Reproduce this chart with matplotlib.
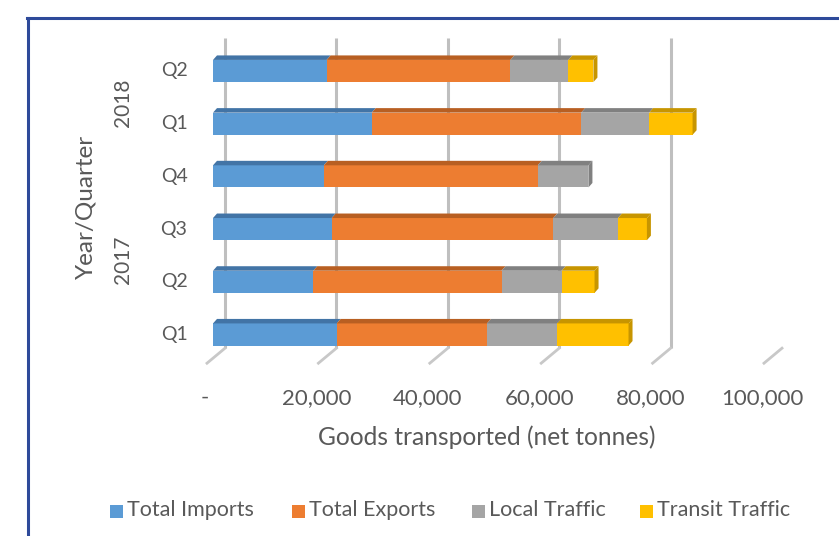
import matplotlib
matplotlib.use("Agg")
import matplotlib.pyplot as plt
from matplotlib.patches import Polygon, Rectangle
from matplotlib.lines import Line2D
import matplotlib.transforms as mtransforms
import numpy as np

plt.rcParams['font.family'] = ['Lato', 'DejaVu Sans']

quarters = ["Q1", "Q2", "Q3", "Q4", "Q1", "Q2"]
years = ["2017", "2018"]
series_names = ["Total Imports", "Total Exports", "Local Traffic", "Transit Traffic"]
imports = [22200, 18000, 21300, 19900, 28500, 20400]
exports = [27000, 33800, 39800, 38400, 37600, 33000]
local = [12600, 10800, 11600, 9100, 12200, 10400]
transit = [12800, 5900, 5200, 0, 7800, 4500]
x_ticks = [0, 20000, 40000, 60000, 80000, 100000]
x_ticklabels = ["-", "20,000", "40,000", "60,000", "80,000", "100,000"]

front_colors = ["#5B9BD5", "#ED7D31", "#A5A5A5", "#FFC000"]
top_colors = ["#4274A6", "#B85F22", "#808080", "#C79500"]
text_color = "#595959"

W, H = 839, 536
fig = plt.figure(figsize=(W / 100, H / 100), dpi=100)

def fx(px):
    return px / W

def fy(py):
    return 1 - py / H

# data axes: 0 -> x=213 px, 100000 -> 770 px ; y from 38 to 360 px
ax_left, ax_right = 213, 770
ax_top, ax_bot = 38, 360
ax = fig.add_axes([fx(ax_left), fy(ax_bot), fx(ax_right) - fx(ax_left), (ax_bot - ax_top) / H])
ax.set_xlim(0, 100000)
ax.set_ylim(-0.484, 5.626)
ax.axis("off")

inv = fig.transFigure.inverted()
# gridlines on back wall (offset right by 12 px), with floor diagonal
for xv in x_ticks:
    off = mtransforms.ScaledTranslation(12 / 100, 0, fig.dpi_scale_trans)
    tr = ax.transData + off
    ax.plot([xv, xv], [5.626, -0.26], color="#BFBFBF", lw=2.2, transform=tr,
            zorder=1, solid_capstyle="butt")
    p0 = ax.transData.transform((xv, -0.26))
    p0 = (p0[0] + 12, p0[1])
    p1 = (p0[0] - 18, p0[1] - 15)
    a = inv.transform(p0)
    b = inv.transform(p1)
    fig.add_artist(Line2D([a[0], b[0]], [a[1], b[1]], color="#C8C8C8", lw=2.0,
                          transform=fig.transFigure, zorder=1))

# bars with 3D faces
data = [imports, exports, local, transit]
bh = 0.42
ddx = 4 / 5.57 * 1000   # depth in data x units
ddy = 4.5 / 52.7         # depth in data y units
ypos = np.arange(len(quarters))
for i, y in enumerate(ypos):
    left = 0
    segs = []
    for s in range(4):
        v = data[s][i]
        if v > 0:
            segs.append((left, v, s))
        left += v
    total = left
    for (l, v, s) in segs:
        ax.add_patch(Rectangle((l, y - bh / 2), v, bh, facecolor=front_colors[s],
                               edgecolor="none", zorder=3))
        ax.add_patch(Polygon([(l, y + bh / 2), (l + v, y + bh / 2),
                              (l + v + ddx, y + bh / 2 + ddy), (l + ddx, y + bh / 2 + ddy)],
                             closed=True, facecolor=top_colors[s], edgecolor="none", zorder=3))
    ls = segs[-1][2]
    ax.add_patch(Polygon([(total, y - bh / 2), (total, y + bh / 2),
                          (total + ddx, y + bh / 2 + ddy), (total + ddx, y - bh / 2 + ddy)],
                         closed=True, facecolor=top_colors[ls], edgecolor="none", zorder=3))

# y tick labels
for i, q in enumerate(quarters):
    p = ax.transData.transform((0, ypos[i]))
    fig.text(fx(174), p[1] / H, q, ha="center", va="center", fontsize=14, color=text_color)

fig.text(fx(123), fy(260), years[0], ha="center", va="center", rotation=90, fontsize=15, color=text_color)
fig.text(fx(123), fy(103), years[1], ha="center", va="center", rotation=90, fontsize=15, color=text_color)
fig.text(fx(86), fy(207), "Year/Quarter", ha="center", va="center", rotation=90, fontsize=17.5, color=text_color)

# x tick labels
for xv, lab in zip(x_ticks, x_ticklabels):
    p = ax.transData.transform((xv, 0))
    fig.text((p[0] - 8) / W, fy(398), lab, ha="center", va="center", fontsize=16, color=text_color)

fig.text(fx(487), fy(437), "Goods transported (net tonnes)", ha="center", va="center",
         fontsize=17.7, color=text_color)

# legend
leg_x = [110, 292, 472, 640]
for s in range(4):
    fig.add_artist(Rectangle((fx(leg_x[s]), fy(518)), 13 / W, 13 / H, facecolor=front_colors[s],
                             edgecolor="none", transform=fig.transFigure))
    fig.text(fx(leg_x[s] + 17), fy(510), series_names[s], ha="left", va="center",
             fontsize=15.5, color=text_color)

# chart border (dark blue), runs off right/bottom
fig.add_artist(Line2D([fx(28), fx(28)], [fy(18), fy(540)], color="#2E4A9A", lw=2.2,
                      transform=fig.transFigure))
fig.add_artist(Line2D([fx(27), fx(845)], [fy(18), fy(18)], color="#2E4A9A", lw=2.2,
                      transform=fig.transFigure))

fig.savefig("out.png", dpi=100)
